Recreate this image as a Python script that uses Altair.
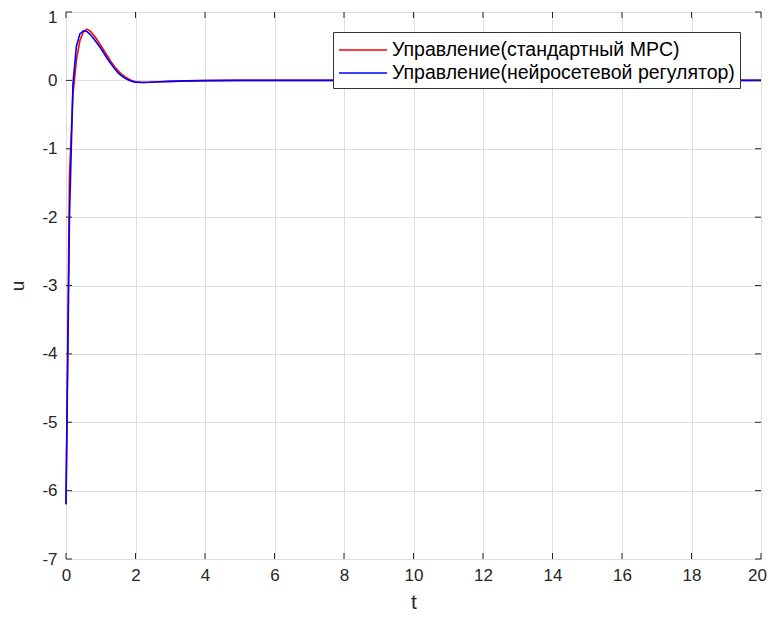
import altair as alt
import pandas as pd

# ---- data ----
t_red = [0, 0.1, 0.2, 0.3, 0.4, 0.5, 0.6, 0.7, 0.8, 0.9, 1.0, 1.1, 1.2, 1.3, 1.4, 1.5,
         1.6, 1.7, 1.8, 1.9, 2.0, 2.2, 2.4, 2.7, 3.0, 3.5, 4.0, 5, 6, 7, 8, 10, 12, 14, 16, 18, 20]
u_red = [-6.2, -1.4, -0.2, 0.3, 0.58, 0.71, 0.75, 0.72, 0.66, 0.59, 0.51, 0.43, 0.35, 0.27, 0.2, 0.14,
         0.09, 0.05, 0.02, -0.005, -0.02, -0.03, -0.028, -0.02, -0.015, -0.008, -0.004, 0, 0, 0, 0, 0, 0, 0, 0, 0, 0]

t_blue = [0, 0.1, 0.2, 0.3, 0.4, 0.5, 0.6, 0.7, 0.8, 0.9, 1.0, 1.1, 1.2, 1.3, 1.4, 1.5,
          1.6, 1.7, 1.8, 1.9, 2.0, 2.2, 2.4, 2.7, 3.0, 3.5, 4.0, 5, 6, 7, 8, 10, 12, 14, 16, 18, 20]
u_blue = [-6.2, -2.0, -0.05, 0.5, 0.68, 0.725, 0.715, 0.67, 0.61, 0.54, 0.47, 0.39, 0.31, 0.24, 0.17, 0.11,
          0.065, 0.03, 0.005, -0.015, -0.025, -0.03, -0.027, -0.02, -0.015, -0.008, -0.004, 0, 0, 0, 0, 0, 0, 0, 0, 0, 0]

label_red = "Управление(стандартный MPC)"
label_blue = "Управление(нейросетевой регулятор)"

x_ticks = [0, 2, 4, 6, 8, 10, 12, 14, 16, 18, 20]
y_ticks = [-7, -6, -5, -4, -3, -2, -1, 0, 1]

W, H = 695, 547
FONT = "Liberation Sans, Arial, sans-serif"

df = pd.DataFrame(
    {"t": t_red + t_blue,
     "u": u_red + u_blue,
     "s": [label_red] * len(t_red) + [label_blue] * len(t_blue)}
)

xscale = alt.Scale(domain=[0, 20], nice=False, zero=False)
yscale = alt.Scale(domain=[-7, 1], nice=False, zero=False)
cscale = alt.Scale(domain=[label_red, label_blue], range=["#ff0000", "#0000ff"])

xaxis = alt.Axis(values=x_ticks, title="t", grid=True, ticks=False, domain=False,
                 labelExpr="'' + datum.value",
                 labelOffset={"condition": {"test": "datum.value == 20", "value": -4}, "value": 0},
                 labelFontSize=17, labelFont=FONT, labelColor="#262626",
                 labelPadding=8, titleFontSize=21, titleFont=FONT,
                 titleFontWeight="normal", titleColor="#262626", titlePadding=8,
                 gridColor="#dedede", labelFlush=False)
yaxis = alt.Axis(values=y_ticks, title="u", grid=True, ticks=False, domain=False,
                 labelExpr="'' + datum.value",
                 labelOffset={"condition": {"test": "datum.value == 1", "value": 5}, "value": 0},
                 labelFontSize=17, labelFont=FONT, labelColor="#262626",
                 labelPadding=9, titleFontSize=19, titleFont=FONT,
                 titleFontWeight="normal", titleColor="#262626", titlePadding=14,
                 gridColor="#dedede", labelFlush=False)
legend = alt.Legend(title=None, orient="none", legendX=267, legendY=20,
                    symbolType="M-1,0L3,0", symbolSize=576,
                    symbolStrokeWidth=1.5, labelFont=FONT, labelLimit=0,
                    labelFontSize=19.5, labelColor="#000000",
                    strokeColor="#333333", fillColor="white",
                    padding=5, rowPadding=0, labelOffset=28)

base = alt.Chart(df)

def series(label):
    return base.transform_filter(alt.datum.s == label).mark_line(strokeWidth=1.6).encode(
        x=alt.X("t:Q", scale=xscale, axis=xaxis),
        y=alt.Y("u:Q", scale=yscale, axis=yaxis),
        color=alt.Color("s:N", scale=cscale, legend=legend),
        order="t:Q",
    )

red = series(label_red)
blue = series(label_blue)

xt = pd.DataFrame({"v": x_ticks})
yt = pd.DataFrame({"v": y_ticks})
tick_len = 6
xb = alt.Chart(xt).mark_rule(color="#262626").encode(
    x=alt.X("v:Q", scale=xscale, axis=xaxis), y=alt.value(H), y2=alt.value(H - tick_len))
xtop = alt.Chart(xt).mark_rule(color="#262626").encode(
    x=alt.X("v:Q", scale=xscale, axis=xaxis), y=alt.value(0), y2=alt.value(tick_len))
yl = alt.Chart(yt).mark_rule(color="#262626").encode(
    y=alt.Y("v:Q", scale=yscale, axis=yaxis), x=alt.value(0), x2=alt.value(tick_len))
yr = alt.Chart(yt).mark_rule(color="#262626").encode(
    y=alt.Y("v:Q", scale=yscale, axis=yaxis), x=alt.value(W), x2=alt.value(W - tick_len))

chart = alt.layer(red, blue, xb, xtop, yl, yr).properties(
    width=W, height=H,
    autosize=alt.AutoSizeParams(type="none"),
    padding={"left": 58, "top": 4, "right": 7, "bottom": 57},
).configure_view(stroke="#262626", strokeWidth=1).configure(background="white")

chart.save("out.html", embed_options={"renderer": "svg", "actions": False})
